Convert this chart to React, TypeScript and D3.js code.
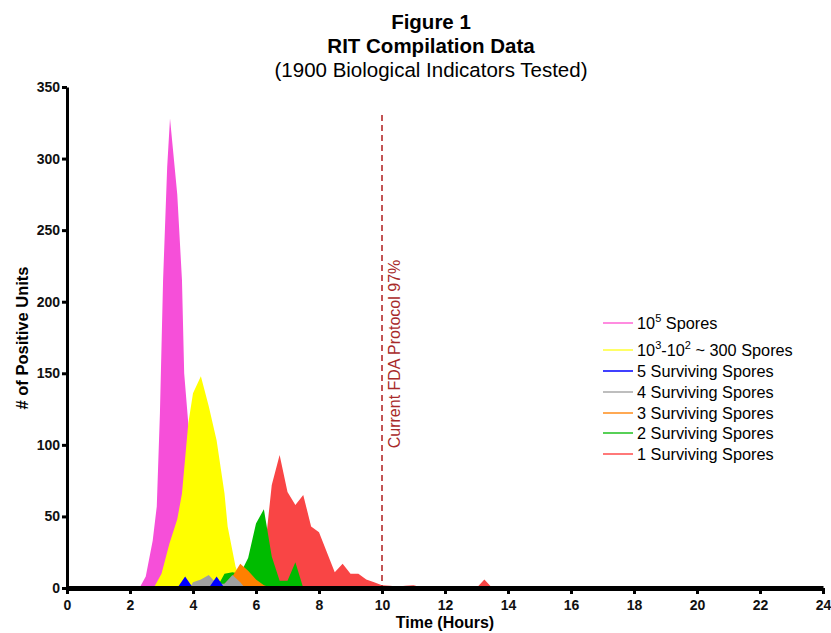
import React, { useRef, useEffect } from 'react';
import * as d3 from 'd3';

// [hours, positive units]
const spores1e5: [number, number][] = [
  [2.3, 0], [2.5, 8], [2.72, 33], [2.85, 57], [2.95, 122], [3.05, 215], [3.18, 294], [3.27, 328],
  [3.5, 275], [3.65, 215], [3.72, 150], [3.85, 115], [4.1, 50], [4.4, 0],
];
const spores300: [number, number][] = [
  [2.75, 0], [3.0, 10], [3.25, 31], [3.5, 48], [3.65, 66], [3.85, 115], [4.0, 136], [4.25, 148],
  [4.5, 127], [4.75, 103], [5.0, 66], [5.1, 43], [5.35, 15], [5.6, 0],
];
const surviving5: [number, number][] = [
  [3.5, 0], [3.75, 8], [4.0, 0], [4.5, 0], [4.75, 8], [5.0, 0],
];
const surviving4: [number, number][] = [
  [3.9, 0], [4.0, 4], [4.25, 6], [4.5, 9], [4.75, 3], [5.0, 3], [5.25, 9], [5.5, 4], [5.65, 0],
];
const surviving3: [number, number][] = [
  [4.75, 0], [5.0, 3], [5.25, 8], [5.5, 17], [5.75, 12], [6.0, 6], [6.25, 2], [6.5, 0],
];
const surviving2: [number, number][] = [
  [4.75, 0], [5.0, 10], [5.25, 11], [5.5, 10], [5.75, 21], [6.0, 45], [6.25, 55], [6.5, 22],
  [6.75, 5], [7.0, 5], [7.25, 18], [7.5, 0],
];
const surviving1: [number, number][] = [
  [6.0, 0], [6.25, 20], [6.5, 72], [6.75, 93], [7.0, 67], [7.25, 58], [7.5, 65], [7.75, 43],
  [8.0, 39], [8.25, 25], [8.5, 11], [8.75, 17], [9.0, 10], [9.25, 10], [9.5, 6], [9.75, 4],
  [10.0, 2], [10.25, 1.5], [10.5, 1], [10.75, 1.5], [11.0, 2], [11.25, 0.5], [11.5, 0],
  [13.0, 0], [13.25, 6], [13.5, 0],
];

const legendLabels = ['5', '3-2', '5 Surviving Spores', '4 Surviving Spores', '3 Surviving Spores', '2 Surviving Spores', '1 Surviving Spores'];
const legendColors = ['#ff66d6', '#ffff33', '#0000ff', '#a8a8a8', '#ff8c1a', '#1fc01f', '#ff4d4d'];
const xTicks = d3.range(0, 25, 2);
const yTicks = d3.range(0, 351, 50);

const App = () => {
  const svgRef = useRef<SVGSVGElement>(null);
  const width = 831;
  const height = 633;

  useEffect(() => {
    const svg = d3.select(svgRef.current);
    svg.selectAll('*').remove();

    const x = d3.scaleLinear().domain([0, 24]).range([67, 823]);
    const y = d3.scaleLinear().domain([0, 350]).range([588, 87]);

    const area = d3.area<[number, number]>()
      .x(d => x(d[0]))
      .y0(y(0))
      .y1(d => y(d[1]));

    // drawing order: big populations behind, low counts on top
    const layers: [[number, number][], string][] = [
      [spores1e5, '#f64fd9'],
      [spores300, '#ffff00'],
      [surviving1, '#f94545'],
      [surviving2, '#00bb00'],
      [surviving3, '#ff8000'],
      [surviving4, '#a0a0a0'],
      [surviving5, '#0000ff'],
    ];
    layers.forEach(([data, color]) => {
      svg.append('path').attr('d', area(data)).attr('fill', color);
    });

    // FDA protocol line
    svg.append('line')
      .attr('x1', x(10)).attr('x2', x(10))
      .attr('y1', 115).attr('y2', y(0))
      .attr('stroke', '#b01c1c')
      .attr('stroke-width', 1.5)
      .attr('stroke-dasharray', '6,4');
    svg.append('text')
      .attr('transform', `translate(${x(10) + 18},354) rotate(-90)`)
      .attr('text-anchor', 'middle')
      .attr('font-size', 16)
      .attr('fill', '#a82a2a')
      .text('Current FDA Protocol 97%');

    // axes
    const xAxis = svg.append('g')
      .attr('transform', `translate(0,${y(0)})`)
      .call(d3.axisBottom(x).tickValues(xTicks).tickSize(6).tickSizeOuter(0).tickPadding(6));
    xAxis.select('.domain').attr('stroke-width', 5);
    xAxis.selectAll('.tick line').attr('stroke-width', 3);

    const yAxis = svg.append('g')
      .attr('transform', `translate(${x(0)},0)`)
      .call(d3.axisLeft(y).tickValues(yTicks).tickSize(5).tickSizeOuter(0).tickPadding(2));
    yAxis.select('.domain').attr('stroke-width', 3);
    yAxis.selectAll('.tick line').attr('stroke-width', 3);

    svg.selectAll('.tick text')
      .attr('font-size', 14)
      .attr('font-weight', 'bold')
      .attr('font-family', 'Liberation Sans, Arial, sans-serif')
      .attr('fill', '#111');

    svg.append('text')
      .attr('x', 445).attr('y', 628)
      .attr('text-anchor', 'middle')
      .attr('font-size', 16).attr('font-weight', 'bold')
      .text('Time (Hours)');
    svg.append('text')
      .attr('transform', 'translate(28,338) rotate(-90)')
      .attr('text-anchor', 'middle')
      .attr('font-size', 16.5).attr('font-weight', 'bold')
      .text('# of Positive Units');

    // title
    const titles: [string, number, string][] = [
      ['Figure 1', 29, 'bold'],
      ['RIT Compilation Data', 53, 'bold'],
      ['(1900 Biological Indicators Tested)', 77, 'normal'],
    ];
    titles.forEach(([t, ty, w]) => {
      svg.append('text')
        .attr('x', 431).attr('y', ty)
        .attr('text-anchor', 'middle')
        .attr('font-size', 20.5).attr('font-weight', w)
        .text(t);
    });

    // legend
    const rowY = [323, 350, 371, 392, 413, 433, 454];
    const legend = svg.append('g');
    legendLabels.forEach((label, i) => {
      legend.append('line')
        .attr('x1', 603).attr('x2', 633)
        .attr('y1', rowY[i]).attr('y2', rowY[i])
        .attr('stroke', legendColors[i])
        .attr('stroke-width', 1.5);
      const t = legend.append('text')
        .attr('x', 637).attr('y', rowY[i] + 6)
        .attr('font-size', 16.3);
      if (i === 0) {
        t.append('tspan').text('10');
        t.append('tspan').attr('dy', -7).attr('font-size', 11).text('5');
        t.append('tspan').attr('dy', 7).text(' Spores');
      } else if (i === 1) {
        t.append('tspan').text('10');
        t.append('tspan').attr('dy', -7).attr('font-size', 11).text('3');
        t.append('tspan').attr('dy', 7).text('-10');
        t.append('tspan').attr('dy', -7).attr('font-size', 11).text('2');
        t.append('tspan').attr('dy', 7).text(' ~ 300 Spores');
      } else {
        t.text(label);
      }
    });
  }, []);

  return (
    <svg
      ref={svgRef}
      width={width}
      height={height}
      style={{ position: 'absolute', left: 0, top: 0, background: '#fff' }}
      fontFamily="Liberation Sans, Arial, sans-serif"
    />
  );
};

export default App;
